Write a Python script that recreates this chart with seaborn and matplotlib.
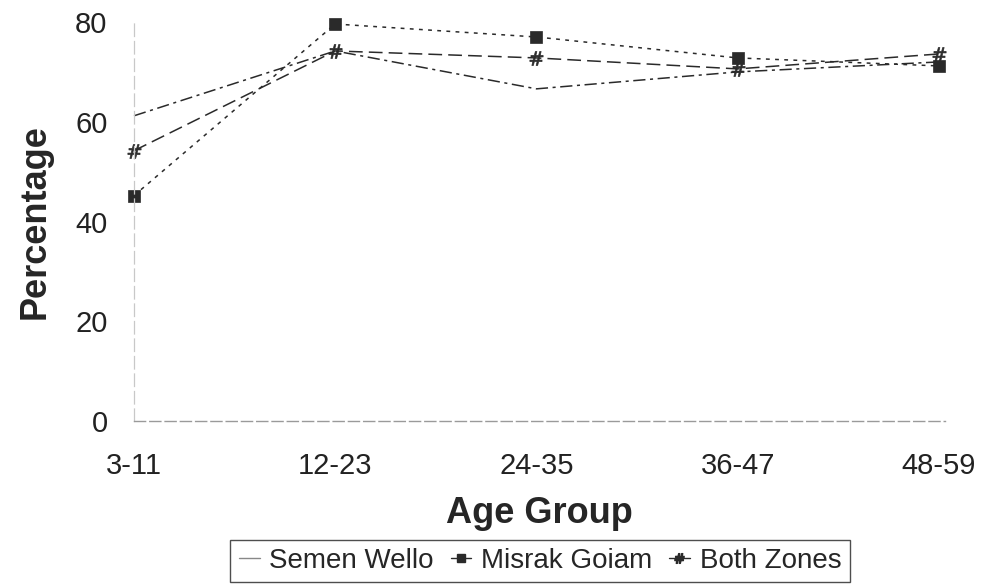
import matplotlib
matplotlib.use("Agg")
import matplotlib.pyplot as plt
from matplotlib.lines import Line2D
import seaborn as sns
import pandas as pd

# Values
age_groups = ["3-11", "12-23", "24-35", "36-47", "48-59"]
semen_wello = [61.2, 74.2, 66.6, 70.0, 72.0]
misrak_goiam = [45.2, 79.6, 77.0, 72.8, 71.2]
both_zones = [54.2, 74.2, 72.8, 70.6, 73.6]
zones = ["Semen Wello", "Misrak Goiam", "Both Zones"]

sns.set_theme(style="white")
plt.rcParams["font.family"] = ["Liberation Sans", "DejaVu Sans"]

fig = plt.figure(figsize=(9.89, 5.84), dpi=100)
ax = fig.add_axes([0.1355, 0.279, 0.82, 0.6833])

line_col = "#2a2a2a"
styles = {
    "Semen Wello": dict(dashes=(8, 3, 2, 3), marker=None, ms=0),
    "Misrak Goiam": dict(dashes=(2.5, 3.5), marker="s", ms=8.5),
    "Both Zones": dict(dashes=(9, 4), marker="$\\#$", ms=10),
}
for name, vals in zip(zones, [semen_wello, misrak_goiam, both_zones]):
    st = styles[name]
    d = pd.DataFrame({"pos": range(len(age_groups)), "pct": vals})
    sns.lineplot(
        data=d, x="pos", y="pct", ax=ax, color=line_col, linewidth=1.1,
        dashes=False, marker=st["marker"], markersize=st["ms"],
        markeredgewidth=0.5, markerfacecolor=line_col, markeredgecolor=line_col,
        clip_on=False,
    )
    ax.lines[-1].set_dashes(st["dashes"])

ax.set_xlim(0, 4.03)
ax.set_ylim(0, 80)
ax.set_xticks(range(len(age_groups)))
ax.set_xticklabels(age_groups)
ax.set_yticks([0, 20, 40, 60, 80])
ax.tick_params(axis="both", length=0, labelsize=21, colors="#222222")
ax.tick_params(axis="y", pad=19)
ax.tick_params(axis="x", pad=22)

ax.set_xlabel("Age Group", fontsize=26, fontweight="bold", labelpad=12)
ax.set_ylabel("Percentage", fontsize=26, fontweight="bold", labelpad=16)

for s in ["top", "right"]:
    ax.spines[s].set_visible(False)
ax.spines["left"].set_color("#c8c8c8")
ax.spines["left"].set_linestyle((0, (10, 4)))
ax.spines["left"].set_linewidth(0.9)
ax.spines["bottom"].set_color("#9a9a9a")
ax.spines["bottom"].set_linestyle((0, (8, 3)))
ax.spines["bottom"].set_linewidth(1.0)

# legend with short handles, boxed at bottom
handles = [
    Line2D([], [], color="#888888", linewidth=1.0),
    Line2D([], [], color=line_col, linewidth=1.0, marker="s", markersize=6, markevery=[1]),
    Line2D([], [], color=line_col, linewidth=1.0, marker="$\\#$", markersize=7, markevery=[1]),
]
leg = fig.legend(
    handles, zones, loc="lower center", bbox_to_anchor=(0.546, 0.003), ncol=3,
    fontsize=20, frameon=True, fancybox=False, handlelength=0.75, handletextpad=0.35,
    columnspacing=0.6, borderpad=0.3, borderaxespad=0,
)
leg.get_frame().set_edgecolor("#222222")
leg.get_frame().set_linewidth(1.0)

fig.savefig("out.png", dpi=100)
